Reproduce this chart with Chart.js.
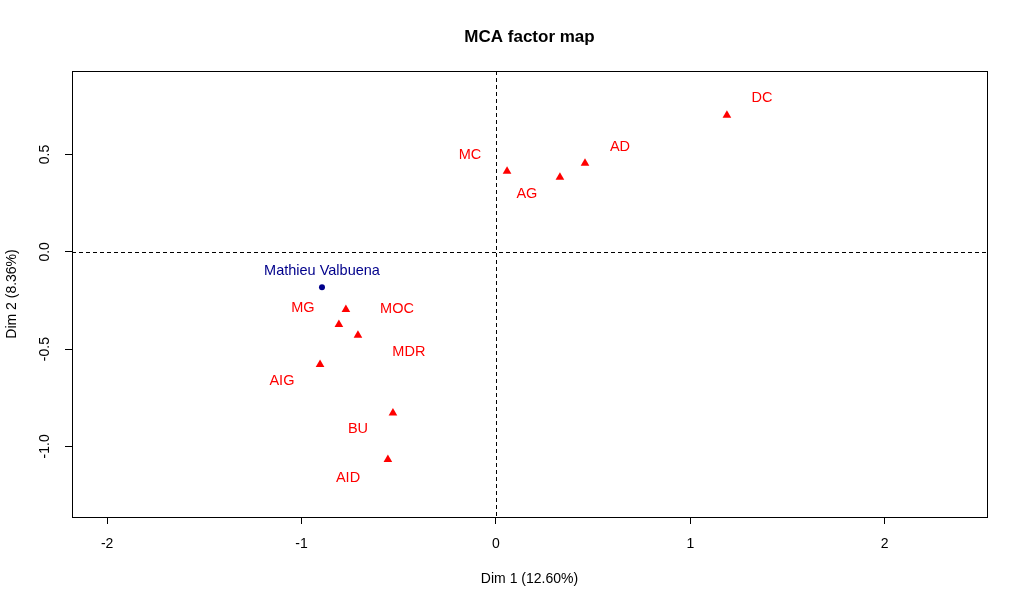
<!DOCTYPE html>
<html>
<head>
<meta charset="utf-8">
<script src="https://cdn.jsdelivr.net/npm/chart.js@4/dist/chart.umd.min.js"></script>
<style>
  body { margin: 0; background: #fff; }
</style>
</head>
<body>
<canvas id="mcaMap" width="1024" height="606"></canvas>
<script>
// categories (red triangles)
const catNames = ['DC', 'AD', 'AG', 'MC', 'MG', 'MOC', 'MDR', 'AIG', 'BU', 'AID'];
const catX = [1.188, 0.458, 0.329, 0.057, -0.808, -0.772, -0.710, -0.905, -0.530, -0.556];
const catY = [0.702, 0.455, 0.383, 0.414, -0.373, -0.296, -0.429, -0.579, -0.828, -1.067];
// where the labels sit (data units)
const catLabX = [1.368, 0.638, 0.159, -0.134, -0.993, -0.509, -0.448, -1.101, -0.710, -0.761];
const catLabY = [0.791, 0.539, 0.297, 0.497, -0.290, -0.295, -0.516, -0.665, -0.912, -1.163];

// individual (blue dot)
const indNames = ['Mathieu Valbuena'];
const indX = [-0.895];
const indY = [-0.182];
const indLabX = [-0.895];
const indLabY = [-0.099];

const xTicks = [-2, -1, 0, 1, 2];
const yTicks = [-1.0, -0.5, 0.0, 0.5];

const FONT = "'Liberation Sans', Arial, sans-serif";

const frame = {
    id: 'frame',
    beforeDatasetsDraw(chart) {
        const { ctx, chartArea: a, scales: { x, y } } = chart;
        ctx.save();
        ctx.strokeStyle = '#000';
        ctx.lineWidth = 1;
        ctx.setLineDash([4, 3]);
        const x0 = Math.round(x.getPixelForValue(0)) + 0.5;
        const y0 = Math.round(y.getPixelForValue(0)) + 0.5;
        ctx.beginPath();
        ctx.moveTo(x0, a.top);
        ctx.lineTo(x0, a.bottom);
        ctx.moveTo(a.left, y0);
        ctx.lineTo(a.right, y0);
        ctx.stroke();
        ctx.setLineDash([]);
        ctx.strokeRect(Math.round(a.left) + 0.5, Math.round(a.top) + 0.5,
            Math.round(a.right - a.left), Math.round(a.bottom - a.top));
        ctx.restore();
    },
    afterDatasetsDraw(chart) {
        const { ctx, chartArea: a, scales: { x, y } } = chart;
        ctx.save();
        ctx.textAlign = 'center';
        ctx.textBaseline = 'middle';
        ctx.font = '14.5px ' + FONT;
        ctx.fillStyle = '#ff0000';
        catNames.forEach((n, i) => {
            ctx.fillText(n, x.getPixelForValue(catLabX[i]), y.getPixelForValue(catLabY[i]));
        });
        ctx.fillStyle = '#00008b';
        indNames.forEach((n, i) => {
            ctx.fillText(n, x.getPixelForValue(indLabX[i]), y.getPixelForValue(indLabY[i]));
        });
        // main title
        ctx.fillStyle = '#000';
        ctx.font = 'bold 17px ' + FONT;
        ctx.fillText('MCA factor map', (a.left + a.right) / 2, 37);
        ctx.restore();
    }
};

new Chart(document.getElementById('mcaMap').getContext('2d'), {
    type: 'scatter',
    data: {
        datasets: [{
            label: 'categories',
            data: catX.map((v, i) => ({ x: v, y: catY[i] })),
            pointStyle: 'triangle',
            pointRadius: 5,
            backgroundColor: '#ff0000',
            borderColor: '#ff0000',
            borderWidth: 0
        }, {
            label: 'individuals',
            data: indX.map((v, i) => ({ x: v, y: indY[i] })),
            pointStyle: 'circle',
            pointRadius: 3,
            backgroundColor: '#00008b',
            borderColor: '#00008b',
            borderWidth: 0
        }]
    },
    options: {
        responsive: false,
        animation: false,
        layout: { padding: { left: 0, right: 37, top: 71, bottom: 0 } },
        plugins: {
            legend: { display: false },
            tooltip: { enabled: false },
            title: { display: false }
        },
        scales: {
            x: {
                type: 'linear',
                min: -2.181,
                max: 2.526,
                afterBuildTicks: s => { s.ticks = xTicks.map(v => ({ value: v })); },
                afterFit: s => { s.height = 89; },
                border: { display: false },
                grid: { drawOnChartArea: false, drawTicks: true, tickLength: 7, color: '#000' },
                ticks: {
                    color: '#000', padding: 12, maxRotation: 0,
                    font: { family: FONT, size: 14 },
                    callback: v => String(v)
                },
                title: {
                    display: true, text: 'Dim 1 (12.60%)', color: '#000',
                    font: { family: FONT, size: 14 },
                    padding: { top: 0, bottom: 18 }
                }
            },
            y: {
                type: 'linear',
                min: -1.363,
                max: 0.9295,
                afterBuildTicks: s => { s.ticks = yTicks.map(v => ({ value: v })); },
                afterFit: s => { s.width = 72; },
                border: { display: false },
                grid: { drawOnChartArea: false, drawTicks: true, tickLength: 7, color: '#000' },
                ticks: {
                    color: '#000', padding: 8, minRotation: 90, maxRotation: 90,
                    crossAlign: 'center',
                    font: { family: FONT, size: 14 },
                    callback: v => v.toFixed(1)
                },
                title: {
                    display: true, text: 'Dim 2 (8.36%)', color: '#000',
                    font: { family: FONT, size: 14 },
                    padding: { top: 4, bottom: 0 }
                }
            }
        }
    },
    plugins: [frame]
});
</script>
</body>
</html>
